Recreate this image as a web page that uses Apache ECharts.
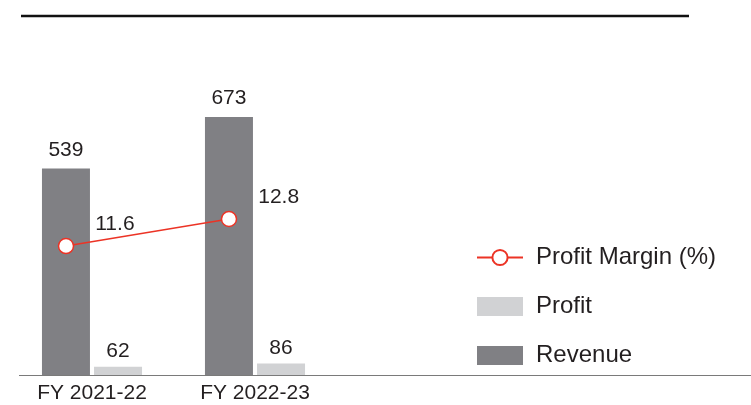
<!DOCTYPE html>
<html>
<head>
<meta charset="utf-8">
<script src="https://cdn.jsdelivr.net/npm/echarts@6/dist/echarts.min.js"></script>
<style>
    html, body { margin: 0; padding: 0; background: #fff; }
    #main { width: 751px; height: 405px; }
</style>
</head>
<body>
<div id="main"></div>
<script>
// data
const years = ['FY 2021-22', 'FY 2022-23'];
const revenue = [539, 673];
const profit = [62, 86];
const profitMargin = [11.6, 12.8];

const textColor = '#231f20';
const font = 'Liberation Sans, Arial, sans-serif';

const chart = echarts.init(document.getElementById('main'));

const option = {
    animation: false,
    textStyle: { fontFamily: font },
    // grid 0 holds the bars, grid 1 runs from one revenue bar centre to the other
    grid: [
        { left: 10.5, width: 326, top: 30, bottom: 30 },
        { left: 66, width: 163, top: 30, bottom: 30 }
    ],
    legend: {
        orient: 'vertical',
        left: 476,
        top: 244,
        padding: 0,
        itemWidth: 46,
        itemHeight: 19,
        itemGap: 22,
        textStyle: {
            fontSize: 24,
            lineHeight: 27,
            color: textColor,
            fontFamily: font,
            padding: [0, 0, 0, 8]
        },
        data: [
            { name: 'Profit Margin (%)' },
            { name: 'Profit', icon: 'rect' },
            { name: 'Revenue', icon: 'rect' }
        ]
    },
    xAxis: [
        {
            type: 'category',
            gridIndex: 0,
            data: years,
            axisLine: { show: false },
            axisTick: { show: false },
            axisLabel: { fontSize: 21, color: textColor, margin: 8, fontFamily: font }
        },
        {
            type: 'category',
            gridIndex: 1,
            data: years,
            boundaryGap: false,
            show: false
        }
    ],
    yAxis: [
        { type: 'value', gridIndex: 0, min: 0, max: 900, show: false },
        { type: 'value', gridIndex: 0, min: 0, max: 2600, show: false },
        { type: 'value', gridIndex: 1, min: 5.87, max: 21.2, show: false }
    ],
    graphic: [
        {
            type: 'line',
            shape: { x1: 21, y1: 16, x2: 689, y2: 16 },
            style: { stroke: '#111', lineWidth: 2.5 }
        },
        {
            type: 'line',
            shape: { x1: 19, y1: 375.5, x2: 751, y2: 375.5 },
            style: { stroke: '#7a7a7a', lineWidth: 1 }
        }
    ],
    series: [
        {
            name: 'Revenue',
            type: 'bar',
            xAxisIndex: 0,
            yAxisIndex: 0,
            data: revenue,
            barWidth: 48,
            barGap: '8.5%',
            itemStyle: { color: '#808084' },
            label: {
                show: true,
                position: 'top',
                distance: 8,
                fontSize: 21,
                color: textColor,
                fontFamily: font
            }
        },
        {
            name: 'Profit',
            type: 'bar',
            xAxisIndex: 0,
            yAxisIndex: 1,
            data: profit,
            barWidth: 48,
            barGap: '8.5%',
            itemStyle: { color: '#d1d2d4' },
            label: {
                show: true,
                position: 'top',
                distance: 5,
                fontSize: 21,
                color: textColor,
                fontFamily: font
            }
        },
        {
            name: 'Profit Margin (%)',
            type: 'line',
            xAxisIndex: 1,
            yAxisIndex: 2,
            data: profitMargin,
            symbol: 'circle',
            symbolSize: 15,
            lineStyle: { color: '#ec3325', width: 1.5 },
            itemStyle: { color: '#fff', borderColor: '#ec3325', borderWidth: 1.5 },
            label: {
                show: true,
                position: 'right',
                distance: 5,
                offset: [16, -22],
                fontSize: 21,
                color: textColor,
                fontFamily: font
            },
            z: 5
        }
    ]
};

chart.setOption(option);
</script>
</body>
</html>
